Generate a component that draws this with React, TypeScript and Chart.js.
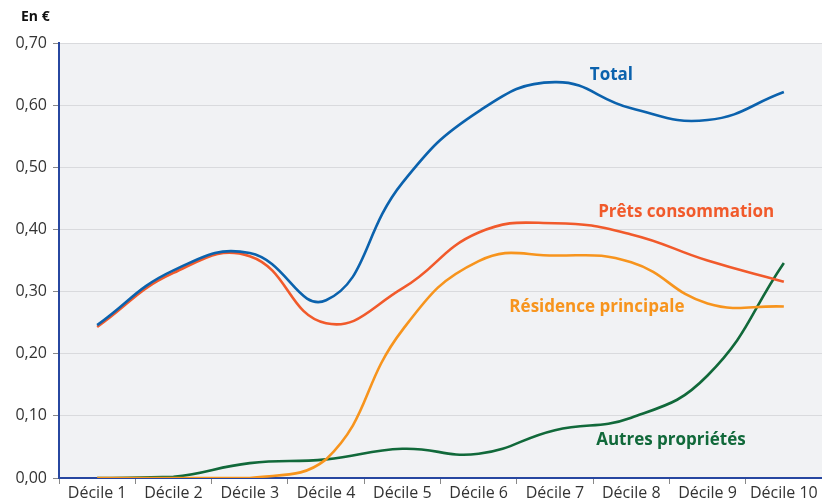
import React, { useEffect, useRef } from "react";
import { Chart, registerables } from "chart.js";

Chart.register(...registerables);

const categories = ["Décile 1", "Décile 2", "Décile 3", "Décile 4", "Décile 5", "Décile 6", "Décile 7", "Décile 8", "Décile 9", "Décile 10"];
const total = [0.246, 0.334, 0.362, 0.286, 0.475, 0.59, 0.637, 0.595, 0.576, 0.621];
const pretsConso = [0.243, 0.330, 0.357, 0.249, 0.305, 0.395, 0.410, 0.392, 0.350, 0.316];
const residence = [0.0, 0.0, 0.0, 0.03, 0.238, 0.349, 0.358, 0.347, 0.281, 0.276];
const autres = [0.0, 0.002, 0.024, 0.030, 0.047, 0.039, 0.077, 0.097, 0.165, 0.346];

const seriesNames = ["Total", "Prêts consommation", "Résidence principale", "Autres propriétés"];
const seriesColors = ["#0b62ad", "#f15a2b", "#f7941d", "#11693a"];
// label anchor: [category index (fractional), value]
const labelAnchors: [number, number][] = [[6.74, 0.649], [7.72, 0.428], [6.55, 0.275], [7.52, 0.061]];

const FONT = "'Open Sans', sans-serif";

const decorPlugin = {
  id: "decor",
  beforeDraw(chart: any) {
    const { ctx, chartArea } = chart;
    ctx.save();
    ctx.fillStyle = "#f1f2f4";
    ctx.fillRect(chartArea.left, chartArea.top, chartArea.right - chartArea.left, chartArea.bottom - chartArea.top);
    ctx.restore();
  },
  afterDraw(chart: any) {
    const { ctx } = chart;
    const xs = chart.scales.x;
    const ys = chart.scales.y;
    ctx.save();
    ctx.font = `bold 17px ${FONT}`;
    ctx.textAlign = "center";
    ctx.textBaseline = "middle";
    labelAnchors.forEach(([xi, v], i) => {
      const i0 = Math.floor(xi);
      const x0 = xs.getPixelForValue(i0);
      const x1 = xs.getPixelForValue(i0 + 1);
      const x = x0 + (x1 - x0) * (xi - i0);
      ctx.fillStyle = seriesColors[i];
      ctx.fillText(seriesNames[i], x, ys.getPixelForValue(v));
    });
    ctx.font = `bold 14px ${FONT}`;
    ctx.fillStyle = "#111";
    ctx.textAlign = "left";
    ctx.fillText("En €", 21, 17);
    ctx.restore();
  },
};

export default function App() {
  const ref = useRef<HTMLCanvasElement>(null);
  useEffect(() => {
    document.body.style.margin = "0";
    const data = [total, pretsConso, residence, autres];
    const chart = new Chart(ref.current!, {
      type: "line",
      data: {
        labels: categories,
        datasets: data.map((d, i) => ({
          label: seriesNames[i],
          data: d,
          borderColor: seriesColors[i],
          borderWidth: 2.6,
          pointRadius: 0,
          tension: 0.45,
          fill: false,
        })),
      },
      options: {
        animation: false,
        responsive: false,
        layout: { padding: { top: 43, right: 0, left: 0, bottom: 0 } },
        plugins: { legend: { display: false }, tooltip: { enabled: false } },
        scales: {
          x: {
            offset: true,
            grid: { offset: true, drawOnChartArea: false, color: "#888", tickLength: 6 },
            border: { color: "#2747a0", width: 2 },
            ticks: { color: "#333", font: { size: 16, family: FONT }, maxRotation: 0, autoSkip: false, padding: 0 },
            afterFit(s: any) { s.height = 24; },
          },
          y: {
            min: 0,
            max: 0.7,
            ticks: {
              stepSize: 0.1,
              color: "#333",
              font: { size: 16, family: FONT },
              padding: 6,
              callback: (v: any) => Number(v).toFixed(2).replace(".", ","),
            },
            grid: { color: "#d9dadd", tickLength: 6, tickColor: "#888" },
            border: { color: "#2747a0", width: 2 },
            afterFit(s: any) { s.width = 59; },
          },
        },
      },
      plugins: [decorPlugin],
    });
    return () => chart.destroy();
  }, []);
  return (
    <div style={{ position: "absolute", left: 0, top: 0, width: 822, height: 502 }}>
      <canvas ref={ref} width={822} height={502} />
    </div>
  );
}
